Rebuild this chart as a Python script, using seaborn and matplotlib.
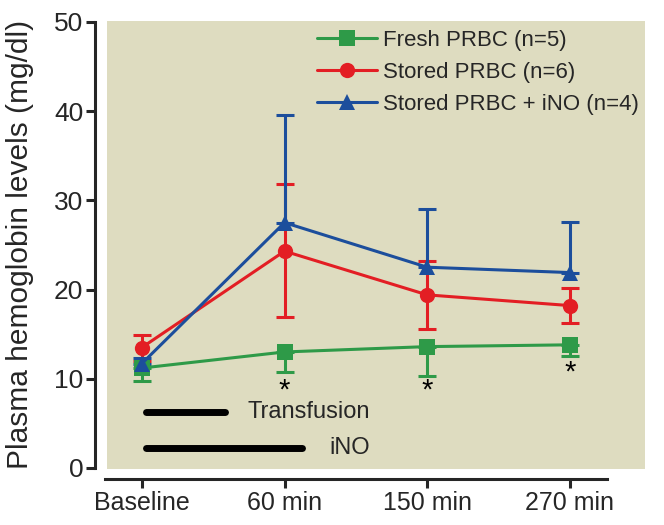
import numpy as np
import pandas as pd
import matplotlib
matplotlib.use("Agg")
import matplotlib.pyplot as plt
import seaborn as sns

# ---- data ----
timepoints = ["Baseline", "60 min", "150 min", "270 min"]

fresh_mean = [11.2, 13.0, 13.6, 13.8]
fresh_lower = [9.7, 10.8, 10.3, 12.5]      # only lower error bars drawn

stored_mean = [13.5, 24.3, 19.4, 18.2]
stored_lower = [12.0, 16.9, 15.6, 16.3]
stored_upper = [14.9, 31.8, 23.2, 20.2]

ino_mean = [11.7, 27.5, 22.5, 21.9]
ino_upper = [12.3, 39.6, 29.0, 27.6]       # only upper error bars drawn

series_labels = ["Fresh PRBC (n=5)", "Stored PRBC (n=6)", "Stored PRBC + iNO (n=4)"]
series_colors = ["#2e9a48", "#e31e24", "#1c4e9c"]
series_markers = ["s", "o", "^"]

star_positions = [1, 2, 3]
star_values = [8.7, 8.7, 10.7]

transfusion_span = [0.03, 0.58]
transfusion_y = 6.3
ino_span = [0.03, 1.12]
ino_y = 2.2

sns.set_style("ticks")
plt.rcParams["font.family"] = ["Liberation Sans", "DejaVu Sans"]

df = pd.DataFrame({
    "x": list(range(4)) * 3,
    "value": fresh_mean + stored_mean + ino_mean,
    "group": [series_labels[0]] * 4 + [series_labels[1]] * 4 + [series_labels[2]] * 4,
})

fig = plt.figure(figsize=(6.64, 5.25), dpi=100)
ax = fig.add_axes([0.161, 0.107, 0.81, 0.853])
ax.set_facecolor("#dedcc0")

lw = 2.2
x = np.arange(4)

# error bars (one-sided where the reference shows one side)
ax.errorbar(x, fresh_mean, yerr=[np.array(fresh_mean) - np.array(fresh_lower), np.zeros(4)],
            fmt="none", ecolor=series_colors[0], elinewidth=lw, capsize=6.5, capthick=lw, zorder=2)
ax.errorbar(x, stored_mean, yerr=[np.array(stored_mean) - np.array(stored_lower),
                                  np.array(stored_upper) - np.array(stored_mean)],
            fmt="none", ecolor=series_colors[1], elinewidth=lw, capsize=6.5, capthick=lw, zorder=3)
ax.errorbar(x, ino_mean, yerr=[np.zeros(4), np.array(ino_upper) - np.array(ino_mean)],
            fmt="none", ecolor=series_colors[2], elinewidth=lw, capsize=6.5, capthick=lw, zorder=4)

sns.lineplot(data=df, x="x", y="value", hue="group", style="group",
             palette=series_colors, markers=series_markers, dashes=False,
             hue_order=series_labels, style_order=series_labels,
             linewidth=lw, markersize=11, markeredgewidth=0, ax=ax, zorder=5)

# significance stars
for xs, ys in zip(star_positions, star_values):
    ax.text(xs, ys, "*", ha="center", va="center", fontsize=21, color="black")

# treatment bars
ax.plot(transfusion_span, [transfusion_y] * 2, color="black", lw=5, solid_capstyle="round")
ax.plot(ino_span, [ino_y] * 2, color="black", lw=5, solid_capstyle="round")
ax.text(1.6, transfusion_y, "Transfusion", ha="right", va="center", fontsize=17)
ax.text(1.6, ino_y, "iNO", ha="right", va="center", fontsize=17)

ax.set_xlim(-0.245, 3.525)
ax.set_ylim(-0.1, 50.1)
ax.set_xticks(x)
ax.set_xticklabels(timepoints)
ax.set_yticks(range(0, 51, 10))
ax.set_xlabel("")
ax.set_ylabel("Plasma hemoglobin levels (mg/dl)", fontsize=21.5)
ax.yaxis.set_label_coords(-0.135, 0.5)
ax.tick_params(axis="x", labelsize=18, width=2.2, length=6.5, pad=2)
ax.tick_params(axis="y", labelsize=19, width=2.2, length=6.5, pad=2)

for s in ["top", "right"]:
    ax.spines[s].set_visible(False)
ax.spines["left"].set_position(("outward", 8.6))
ax.spines["bottom"].set_position(("outward", 7.2))
ax.spines["left"].set_linewidth(2.2)
ax.spines["bottom"].set_linewidth(2.2)
ax.spines["left"].set_bounds(0, 50)
ax.spines["bottom"].set_bounds(-0.26, 3.26)

leg = ax.legend(loc="upper left", bbox_to_anchor=(0.39, 0.98), frameon=False,
                fontsize=16, handlelength=2.7, handletextpad=0.3,
                labelspacing=0.5, borderpad=0, borderaxespad=0)

fig.savefig("out.png", dpi=100)
